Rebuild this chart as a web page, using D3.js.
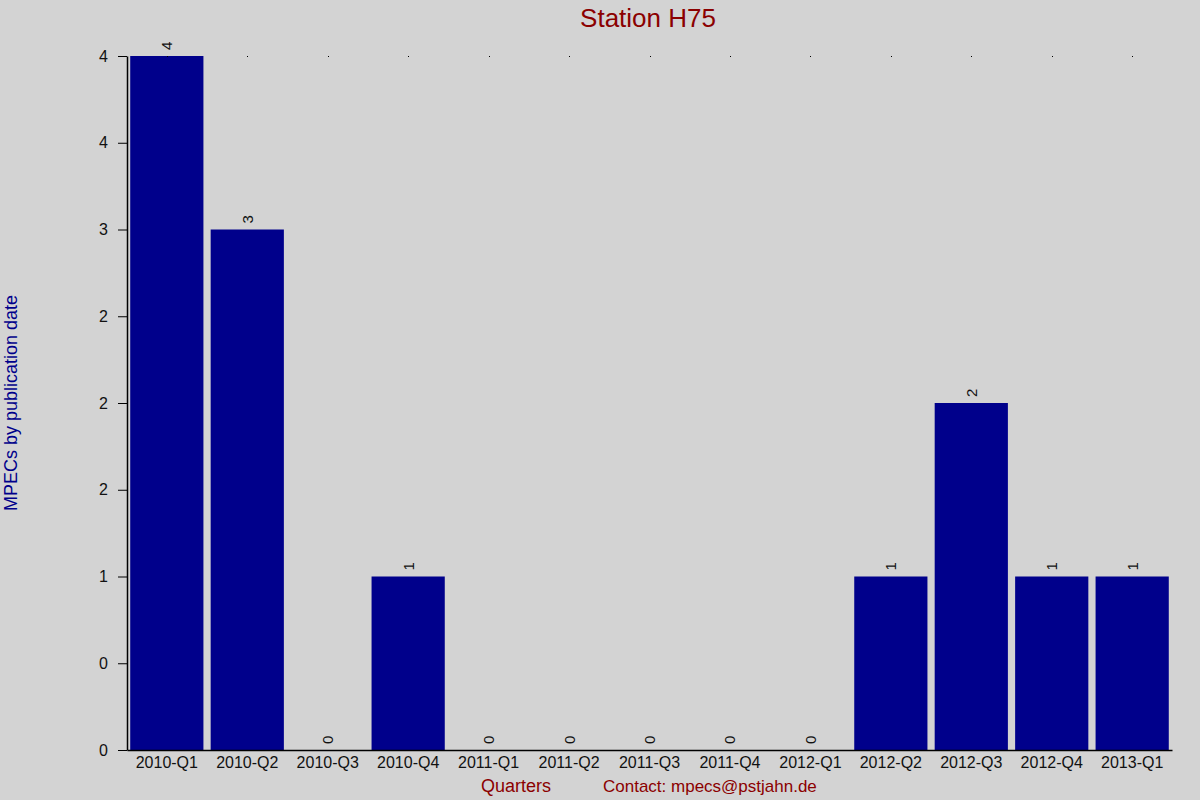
<!DOCTYPE html>
<html>
<head>
<meta charset="utf-8">
<script src="https://cdn.jsdelivr.net/npm/d3@7"></script>
<style>
  body { margin: 0; background: #d3d3d3; }
  svg { display: block; font-family: "Liberation Sans", Arial, sans-serif; }
</style>
</head>
<body>
<div id="chart-area"></div>
<script>
// data
var quarters = ["2010-Q1","2010-Q2","2010-Q3","2010-Q4","2011-Q1","2011-Q2","2011-Q3",
                "2011-Q4","2012-Q1","2012-Q2","2012-Q3","2012-Q4","2013-Q1"];
var counts = [4, 3, 0, 1, 0, 0, 0, 0, 0, 1, 2, 1, 1];
var yTicks = [0, 0.5, 1, 1.5, 2, 2.5, 3, 3.5, 4];
var yTickLabels = ["0","0","1","2","2","2","3","4","4"];

var width = 1200, height = 800;
// plot area edges (window.top is reserved, so no "top" here)
var plotLeft = 127, plotRight = 1172, plotTop = 56, plotBottom = 750;

var svg = d3.select("#chart-area")
    .append("svg")
    .attr("width", width)
    .attr("height", height);

svg.append("rect")
    .attr("width", width)
    .attr("height", height)
    .attr("fill", "#d3d3d3");

var x = d3.scaleBand()
    .domain(quarters)
    .range([plotLeft, plotRight])
    .paddingInner(0.09)
    .paddingOuter(0.04);

var y = d3.scaleLinear()
    .domain([0, 4])
    .range([plotBottom, plotTop]);

var data = quarters.map(function(q, i) { return {q: q, v: counts[i]}; });

// bars
svg.selectAll("rect.bar")
    .data(data)
    .enter()
    .append("rect")
    .attr("class", "bar")
    .attr("x", d => x(d.q))
    .attr("y", d => y(d.v))
    .attr("width", x.bandwidth())
    .attr("height", d => plotBottom - y(d.v))
    .attr("fill", "#00008b");

// little dots on the top edge
svg.selectAll("rect.dot")
    .data(data)
    .enter()
    .append("rect")
    .attr("class", "dot")
    .attr("x", d => Math.round(x(d.q) + x.bandwidth() / 2))
    .attr("y", plotTop)
    .attr("width", 1)
    .attr("height", 1)
    .attr("fill", "#000");

// value labels (rotated)
svg.selectAll("text.val")
    .data(data)
    .enter()
    .append("text")
    .attr("class", "val")
    .attr("transform", d => "translate(" + (x(d.q) + x.bandwidth() / 2 + 5.5) + "," + (y(d.v) - 6) + ") rotate(-90)")
    .attr("font-size", 15)
    .attr("fill", "#111")
    .text(d => d.v);

// y axis
var yAxis = d3.axisLeft(y)
    .tickValues(yTicks)
    .tickFormat((d, i) => yTickLabels[i])
    .tickSize(9)
    .tickPadding(10)
    .tickSizeOuter(0);

var gy = svg.append("g")
    .attr("transform", "translate(" + plotLeft + ",0)")
    .call(yAxis);
gy.select(".domain").attr("stroke", "#000").attr("stroke-width", 1.5);
gy.selectAll("text").attr("font-size", 16).attr("fill", "#111")
    .attr("font-family", "Liberation Sans, Arial, sans-serif");

// x axis
var xAxis = d3.axisBottom(x).tickSize(0).tickPadding(7).tickSizeOuter(0);
var gx = svg.append("g")
    .attr("transform", "translate(0," + plotBottom + ")")
    .call(xAxis);
gx.select(".domain").attr("stroke", "#000").attr("stroke-width", 1.5);
gx.selectAll("text").attr("font-size", 16).attr("fill", "#111")
    .attr("font-family", "Liberation Sans, Arial, sans-serif");

// titles
svg.append("text")
    .attr("x", 648)
    .attr("y", 27)
    .attr("text-anchor", "middle")
    .attr("font-size", 26)
    .attr("fill", "#8b0000")
    .text("Station H75");

svg.append("text")
    .attr("transform", "translate(17," + ((plotTop + plotBottom) / 2) + ") rotate(-90)")
    .attr("text-anchor", "middle")
    .attr("font-size", 18)
    .attr("fill", "#00008b")
    .text("MPECs by publication date");

svg.append("text")
    .attr("x", 516)
    .attr("y", 792)
    .attr("text-anchor", "middle")
    .attr("font-size", 18)
    .attr("fill", "#8b0000")
    .text("Quarters");

svg.append("text")
    .attr("x", 603)
    .attr("y", 792)
    .attr("font-size", 17)
    .attr("fill", "#8b0000")
    .text("Contact: mpecs@pstjahn.de");
</script>
</body>
</html>
